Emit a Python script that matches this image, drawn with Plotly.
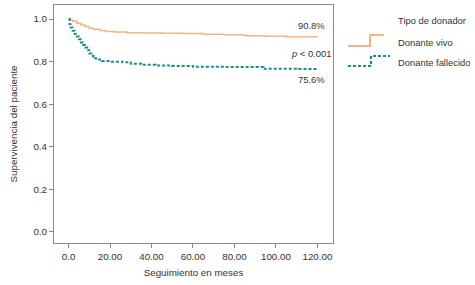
import plotly.graph_objects as go

# Data
t_vivo = [0, 1, 2, 4, 6, 8, 10, 12, 15, 18, 22, 28, 35, 45, 55, 65, 75, 85, 95, 105, 120]
s_vivo = [1.0, 0.995, 0.99, 0.98, 0.972, 0.965, 0.957, 0.952, 0.946, 0.942, 0.939, 0.936, 0.934,
          0.933, 0.932, 0.929, 0.926, 0.921, 0.919, 0.917, 0.917]

t_fall = [0, 0.5, 1, 2, 3, 4, 5, 6, 7, 8, 9, 10, 11, 12, 13, 14, 16, 20, 26, 30, 35, 42,
          50, 60, 75, 94, 110, 120]
s_fall = [1.0, 0.975, 0.96, 0.945, 0.93, 0.918, 0.905, 0.89, 0.878, 0.866, 0.853, 0.838,
          0.828, 0.822, 0.815, 0.81, 0.803, 0.8, 0.797, 0.79, 0.785, 0.782, 0.78, 0.776,
          0.775, 0.766, 0.765, 0.765]

x_ticks = [0, 20, 40, 60, 80, 100, 120]
x_ticktext = ["0.0", "20.00", "40.00", "60.00", "80.00", "100.00", "120.00"]
y_ticks = [0, 0.2, 0.4, 0.6, 0.8, 1.0]
y_ticktext = ["0.0", "0.2", "0.4", "0.6", "0.8", "1.0"]

series_names = ["Donante vivo", "Donante fallecido"]
colors = ["#F7B383", "#1E8C8A"]
legend_title = "Tipo de donador"

FONT = "Liberation Sans, Arial, sans-serif"
TXT = "#333333"
FS = 9.8
FS_LEG = 9.4

fig = go.Figure()
fig.add_trace(go.Scatter(x=t_vivo, y=s_vivo, mode="lines", line_shape="hv",
                         line=dict(color=colors[0], width=1.5), name=series_names[0],
                         showlegend=False))
fig.add_trace(go.Scatter(x=t_fall, y=s_fall, mode="lines", line_shape="hv",
                         line=dict(color=colors[1], width=2, dash="3px,2px"), name=series_names[1],
                         showlegend=False))

# In-plot annotations
fig.add_annotation(x=117, y=0.968, text="90.8%", showarrow=False, xanchor="center",
                   font=dict(family=FONT, size=FS_LEG, color=TXT))
fig.add_annotation(x=117, y=0.839, text="<i>p</i> < 0.001", showarrow=False, xanchor="center",
                   font=dict(family=FONT, size=FS_LEG, color=TXT))
fig.add_annotation(x=117, y=0.718, text="75.6%", showarrow=False, xanchor="center",
                   font=dict(family=FONT, size=FS_LEG, color=TXT))

# Manual legend with step glyphs (paper coords)
W, H = 475, 285
L, R, T, B = 54, 142, 5, 42
pw, ph = W - L - R, H - T - B

def px(x):
    return (x - L) / pw

def py(y):
    return (H - B - y) / ph

for txt, yy in [(legend_title, 20), (series_names[0], 42), (series_names[1], 62)]:
    fig.add_annotation(xref="paper", yref="paper", x=px(396), y=py(yy), text=txt,
                       showarrow=False, xanchor="left", yanchor="middle",
                       font=dict(family=FONT, size=FS_LEG, color=TXT))

def step_path(x0, x1, x2, ylo, yhi):
    return (f"M {px(x0)} {py(ylo)} L {px(x1)} {py(ylo)} L {px(x1)} {py(yhi)} "
            f"L {px(x2)} {py(yhi)}")

fig.add_shape(type="path", xref="paper", yref="paper", path=step_path(348, 370, 384, 46, 35),
              line=dict(color=colors[0], width=2))
fig.add_shape(type="path", xref="paper", yref="paper", path=step_path(348, 371, 390, 66, 56),
              line=dict(color=colors[1], width=2.2, dash="3px,2px"))

axis_common = dict(showline=True, mirror=True, linecolor="#8a8a8a", linewidth=1,
                   ticks="outside", ticklen=4, tickcolor="#8a8a8a", showgrid=False,
                   zeroline=False, automargin=False,
                   tickfont=dict(family=FONT, size=FS, color=TXT))

fig.update_xaxes(range=[-7, 127.5], tickvals=x_ticks, ticktext=x_ticktext,
                 title=dict(text="Seguimiento en meses", standoff=8,
                            font=dict(family=FONT, size=FS, color=TXT)), **axis_common)
fig.update_yaxes(range=[-0.052, 1.066], tickvals=y_ticks, ticktext=y_ticktext,
                 title=dict(text="Supervivencia del paciente", standoff=13,
                            font=dict(family=FONT, size=FS, color=TXT)), **axis_common)

fig.update_layout(width=W, height=H, margin=dict(l=L, r=R, t=T, b=B),
                  plot_bgcolor="white", paper_bgcolor="white", showlegend=False)

fig.write_html("out.html", config={"displayModeBar": False},
               post_script="document.body.style.margin='0';")
